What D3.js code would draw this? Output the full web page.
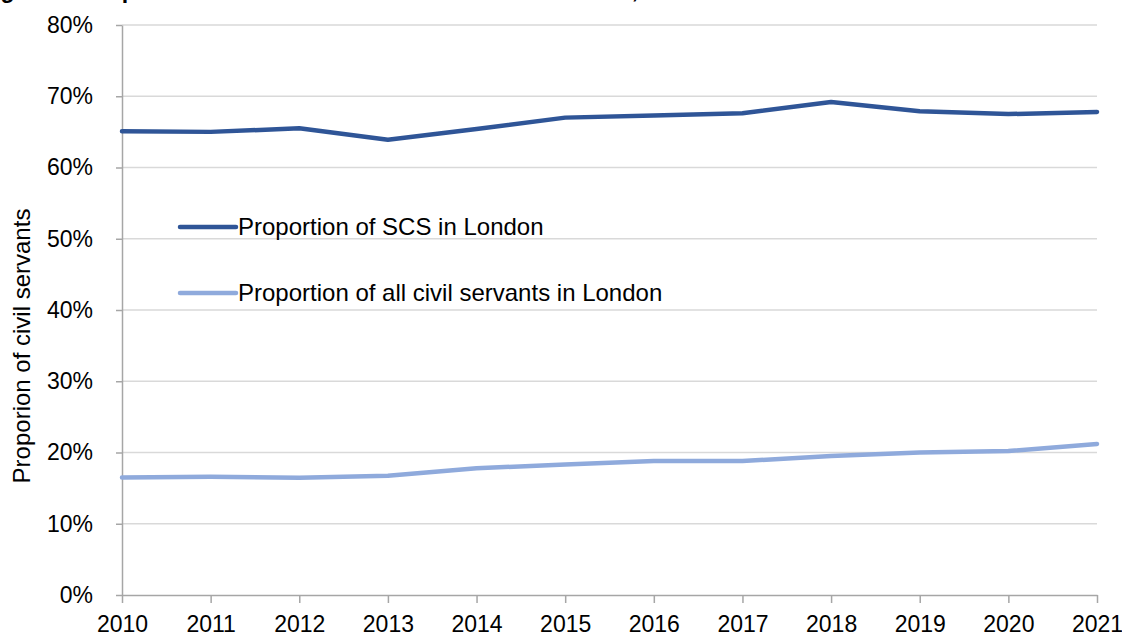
<!DOCTYPE html>
<html>
<head>
<meta charset="utf-8">
<script src="https://cdn.jsdelivr.net/npm/d3@7"></script>
<style>
  html, body { margin: 0; padding: 0; background: #ffffff; }
  svg { display: block; font-family: "Liberation Sans", Arial, sans-serif; }
</style>
</head>
<body>
<svg id="chart" width="1122" height="638"></svg>
<script>
// Years on the horizontal axis
const years = [2010, 2011, 2012, 2013, 2014, 2015, 2016, 2017, 2018, 2019, 2020, 2021];
// Share of Senior Civil Service (SCS) based in London, %
const scsLondon = [65.1, 65.0, 65.5, 63.9, 65.4, 67.0, 67.3, 67.6, 69.2, 67.9, 67.5, 67.8];
// Share of all civil servants based in London, %
const allLondon = [16.5, 16.6, 16.45, 16.75, 17.8, 18.3, 18.8, 18.8, 19.5, 20.0, 20.2, 21.2];
// Y-axis ticks, %
const yTicks = [0, 10, 20, 30, 40, 50, 60, 70, 80];

const seriesNames = ["Proportion of SCS in London", "Proportion of all civil servants in London"];
const seriesColors = ["#2f5597", "#8faadc"];

const svg = d3.select("#chart");
const margin = { left: 122, right: 25, top: 25, bottom: 43 };
const W = 1122, H = 638;

const x = d3.scaleLinear()
  .domain([years[0], years[years.length - 1]])
  .range([margin.left, W - margin.right]);
const y = d3.scaleLinear()
  .domain([0, 80])
  .range([H - margin.bottom, margin.top]);

// Title (runs off the top edge of the canvas)
svg.append("text")
  .attr("x", -20)
  .attr("y", -2)
  .attr("font-size", 23)
  .attr("font-weight", "bold")
  .attr("fill", "#000")
  .text("Figure 4: Proportion of SCS and all civil servants in London, 2010 to 2021");

// Horizontal gridlines
svg.append("g")
  .selectAll("line")
  .data(yTicks.filter(d => d > 0))
  .join("line")
  .attr("x1", x.range()[0])
  .attr("x2", x.range()[1])
  .attr("y1", d => y(d))
  .attr("y2", d => y(d))
  .attr("stroke", "#d9d9d9")
  .attr("stroke-width", 1.5);

// Y axis
const yAxis = svg.append("g")
  .attr("transform", `translate(${margin.left},0)`)
  .call(d3.axisLeft(y).tickValues(yTicks).tickFormat(d => d + "%").tickSize(6).tickSizeOuter(0));
yAxis.select(".domain").attr("stroke", "#a6a6a6").attr("stroke-width", 1.5);
yAxis.selectAll(".tick line").attr("stroke", "#a6a6a6").attr("stroke-width", 1.5);
yAxis.selectAll(".tick text")
  .attr("x", -29)
  .attr("font-size", 23)
  .attr("font-family", "Liberation Sans, Arial, sans-serif")
  .attr("fill", "#000");

// X axis
const xAxis = svg.append("g")
  .attr("transform", `translate(0,${y(0)})`)
  .call(d3.axisBottom(x).tickValues(years).tickFormat(d3.format("d")).tickSize(8).tickSizeOuter(0));
xAxis.select(".domain").attr("stroke", "#a6a6a6").attr("stroke-width", 1.5);
xAxis.selectAll(".tick line").attr("stroke", "#a6a6a6").attr("stroke-width", 1.5);
xAxis.selectAll(".tick text")
  .attr("y", 21)
  .attr("font-size", 23)
  .attr("font-family", "Liberation Sans, Arial, sans-serif")
  .attr("fill", "#000");

// Y axis title
svg.append("text")
  .attr("transform", `translate(30,346) rotate(-90)`)
  .attr("text-anchor", "middle")
  .attr("font-size", 24)
  .attr("fill", "#000")
  .text("Proporion of civil servants");

// Series lines
const line = d3.line()
  .x((d, i) => x(years[i]))
  .y(d => y(d));

[scsLondon, allLondon].forEach((vals, k) => {
  svg.append("path")
    .datum(vals)
    .attr("d", line)
    .attr("fill", "none")
    .attr("stroke", seriesColors[k])
    .attr("stroke-width", 4.5)
    .attr("stroke-linejoin", "round")
    .attr("stroke-linecap", "round");
});

// Legend
const legend = svg.append("g");
const legendY = [227, 293];
seriesNames.forEach((name, k) => {
  legend.append("line")
    .attr("x1", 180).attr("x2", 236)
    .attr("y1", legendY[k]).attr("y2", legendY[k])
    .attr("stroke", seriesColors[k])
    .attr("stroke-width", 4.5)
    .attr("stroke-linecap", "round");
  legend.append("text")
    .attr("x", 238)
    .attr("y", legendY[k] + 8)
    .attr("font-size", 24)
    .attr("fill", "#000")
    .text(name);
});
</script>
</body>
</html>
